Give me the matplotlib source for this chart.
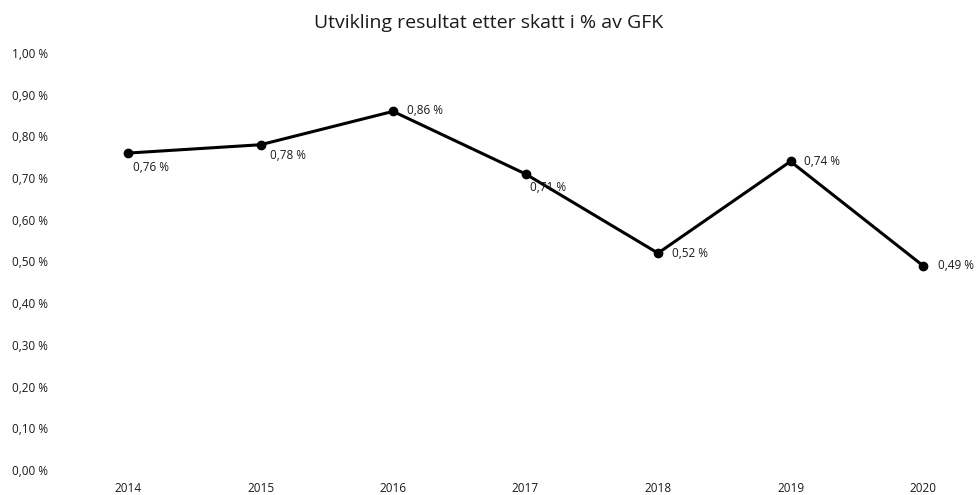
import matplotlib.pyplot as plt
from matplotlib.ticker import FuncFormatter

years = ["2014", "2015", "2016", "2017", "2018", "2019", "2020"]
values = [0.76, 0.78, 0.86, 0.71, 0.52, 0.74, 0.49]
labels = ["0,76 %", "0,78 %", "0,86 %", "0,71 %", "0,52 %", "0,74 %", "0,49 %"]
# label offsets in pixels (dx, dy) relative to the point
offsets_px = [(5, -14), (9, -11), (14, 1), (4, -14), (14, 0), (14, 0), (15, 0)]

plt.rcParams["font.family"] = ["Open Sans", "DejaVu Sans"]
txt = "#1a1a1a"

fig = plt.figure(figsize=(9.77, 4.95), dpi=100)
ax = fig.add_axes([128 / 977, 25 / 495, (923 - 128) / 977, (470 - 53) / 495])

x = list(range(len(years)))
ax.plot(x, values, color="black", linewidth=2.2, marker="o", markersize=6, clip_on=False)

for xi, v, lab, (dx, dy) in zip(x, values, labels, offsets_px):
    ax.annotate(lab, (xi, v), xytext=(dx * 0.72, dy * 0.72), textcoords="offset points",
                ha="left", va="center", fontsize=8.5, color=txt)

ax.set_xlim(0, 6)
ax.set_ylim(0, 1.0)
ax.set_xticks(x)
ax.set_xticklabels(years)
ax.set_yticks([i / 10 for i in range(11)])
ax.yaxis.set_major_formatter(FuncFormatter(lambda v, p: f"{v:.2f}".replace(".", ",") + " %"))

for s in ax.spines.values():
    s.set_visible(False)
ax.tick_params(axis="both", length=0, labelsize=8.5, colors=txt)
ax.tick_params(axis="x", pad=9)
for t in ax.get_yticklabels():
    t.set_horizontalalignment("left")
ax.tick_params(axis="y", pad=(128 - 12) * 0.72)

fig.suptitle("Utvikling resultat etter skatt i % av GFK", x=0.5, y=1 - 23 / 495,
             va="center", fontsize=14, color=txt)

fig.savefig("out.png", dpi=100)
